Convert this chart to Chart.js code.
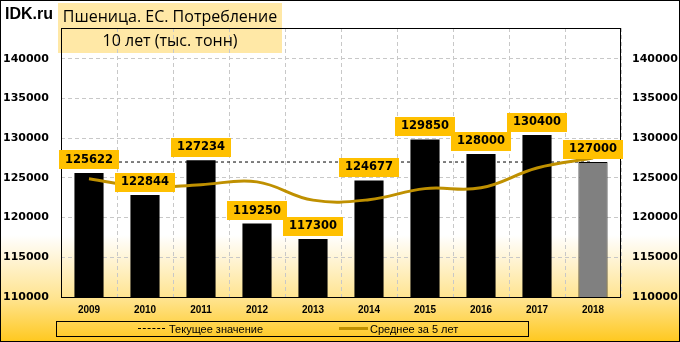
<!DOCTYPE html>
<html>
<head>
<meta charset="utf-8">
<script src="https://cdn.jsdelivr.net/npm/chart.js@4/dist/chart.umd.min.js"></script>
<style>
  html, body { margin: 0; padding: 0; }
  body { width: 680px; height: 342px; overflow: hidden; }
  #wrap {
    position: relative; width: 680px; height: 342px; box-sizing: border-box;
    background: linear-gradient(to bottom, #ffffff 0px, #ffffff 235px, #FFF3D0 262px, #FFE38C 300px, #FFC81E 342px);
  }
  #frame { position: absolute; left: 0; top: 0; width: 680px; height: 342px; box-sizing: border-box; border: 1px solid #000; z-index: 5; pointer-events: none; }
  #titlebg { position: absolute; left: 58px; top: 3px; width: 224px; height: 50px; background: #FFE8A6; z-index: 0; }
  canvas { position: absolute; left: 0; top: 0; z-index: 1; }
  .t { position: absolute; z-index: 3; white-space: nowrap; color: #000; }
  #brand { left: 5px; top: 4px; font: bold 16px "Liberation Sans", Arial, sans-serif; line-height: 20px; }
  #t1 { left: 58px; width: 224px; top: 5px; text-align: center; font: 16px "Open Sans", sans-serif; line-height: 22px; }
  #t2 { left: 58px; width: 224px; top: 29px; text-align: center; font: 16px "Open Sans", sans-serif; line-height: 22px; }
  #legend { position: absolute; left: 56px; top: 321px; width: 473px; height: 16px; box-sizing: border-box; border: 1px solid #000; z-index: 3; }
  .lg { position: absolute; top: 0; font: 11px "Liberation Sans", Arial, sans-serif; line-height: 14px; color: #000; white-space: nowrap; }
  .sw { position: absolute; }
</style>
</head>
<body>
<div id="wrap">
  <div id="titlebg"></div>
  <canvas id="c" width="680" height="342"></canvas>
  <div class="t" id="brand">IDK.ru</div>
  <div class="t" id="t1">Пшеница. ЕС. Потребление</div>
  <div class="t" id="t2">10 лет (тыс. тонн)</div>
  <div id="legend">
    <div class="sw" style="left:81px; top:6px; width:27px; border-top:1px dashed #000;"></div>
    <div class="lg" style="left:112px;">Текущее значение</div>
    <div class="sw" style="left:282px; top:5px; width:29px; height:3px; background:#BF9000;"></div>
    <div class="lg" style="left:313px;">Среднее за 5 лет</div>
  </div>
  <div id="frame"></div>
</div>
<script>
const categories = ['2009','2010','2011','2012','2013','2014','2015','2016','2017','2018'];
const consumption = [125622, 122844, 127234, 119250, 117300, 124677, 129850, 128000, 130400, 127000];
const average5 = [124900, 123850, 124150, 124500, 122200, 122250, 123650, 123750, 126250, 127500];
const currentValue = [127000, 127000, 127000, 127000, 127000, 127000, 127000, 127000, 127000, 127000];
const yTicks = [110000, 115000, 120000, 125000, 130000, 135000, 140000];

const Y_MIN = 110000, Y_MAX = 143880;

const barColors = categories.map((c, i) => i === categories.length - 1 ? '#808080' : '#000000');
const barBorders = categories.map((c, i) => i === categories.length - 1 ? 1 : 0);

const labelPlugin = {
  id: 'barLabels',
  afterDatasetsDraw(chart) {
    const meta = chart.getDatasetMeta(1);
    const ctx = chart.ctx;
    ctx.save();
    ctx.font = 'bold 11.5px "DejaVu Sans", Verdana, sans-serif';
    ctx.textAlign = 'center';
    ctx.textBaseline = 'middle';
    meta.data.forEach((bar, i) => {
      const txt = String(consumption[i]);
      const w = ctx.measureText(txt).width + 12;
      const h = 19;
      const bottom = bar.y - 3.5;
      ctx.fillStyle = '#FFC000';
      ctx.fillRect(Math.round(bar.x - w / 2), Math.round(bottom - h), Math.round(w), h);
      ctx.fillStyle = '#000';
      ctx.fillText(txt, bar.x, Math.round(bottom - h / 2) + 0.5);
    });
    ctx.restore();
  }
};

const framePlugin = {
  id: 'plotFrame',
  beforeDatasetsDraw(chart) {
    const a = chart.chartArea, ctx = chart.ctx;
    ctx.save();
    ctx.strokeStyle = '#000';
    ctx.lineWidth = 1;
    ctx.strokeRect(Math.round(a.left) + 0.5, Math.round(a.top) + 0.5, Math.round(a.right - a.left) - 1, Math.round(a.bottom - a.top));
    ctx.restore();
  }
};

const tickFont = { family: '"DejaVu Sans", Verdana, sans-serif', size: 11, weight: 'bold' };

new Chart(document.getElementById('c'), {
  type: 'bar',
  data: {
    labels: categories,
    datasets: [
      {
        type: 'line', label: 'Среднее за 5 лет', data: average5,
        borderColor: '#BF9000', borderWidth: 3, pointRadius: 0, tension: 0.4,
        fill: false, order: 0, yAxisID: 'y'
      },
      {
        type: 'bar', label: 'Потребление', data: consumption,
        backgroundColor: barColors, borderColor: '#000', borderWidth: barBorders,
        barPercentage: 0.52, categoryPercentage: 1, order: 1, yAxisID: 'y'
      },
      {
        type: 'line', label: 'Текущее значение', data: currentValue,
        borderColor: '#000', borderWidth: 1, borderDash: [3, 3], pointRadius: 0,
        fill: false, order: 2, yAxisID: 'y'
      }
    ]
  },
  options: {
    responsive: false,
    animation: false,
    devicePixelRatio: 1,
    layout: { padding: { left: 3, right: 0, top: 28, bottom: 25 } },
    plugins: { legend: { display: false }, tooltip: { enabled: false }, title: { display: false } },
    scales: {
      x: {
        offset: true,
        grid: { display: true, offset: true, color: '#C8C8C8', lineWidth: 1, drawTicks: false },
        border: { display: false, dash: [4, 3] },
        ticks: { color: '#000', font: { family: '"Liberation Sans", Arial, sans-serif', size: 10, weight: 'bold' }, padding: 7, maxRotation: 0 },
        afterFit(scale) { scale.height = 20; }
      },
      y: {
        position: 'left', min: Y_MIN, max: Y_MAX,
        grid: { display: true, color: '#C8C8C8', lineWidth: 1, drawTicks: false },
        border: { display: false, dash: [4, 3] },
        ticks: { stepSize: 5000, crossAlign: 'far', color: '#000', padding: 4, font: tickFont,
          callback: v => String(v) },
        afterBuildTicks(scale) { scale.ticks = yTicks.map(v => ({ value: v })); },
        afterFit(scale) { scale.width = 58; }
      },
      y2: {
        position: 'right', min: Y_MIN, max: Y_MAX,
        grid: { display: false, drawTicks: false },
        border: { display: false },
        ticks: { stepSize: 5000, crossAlign: 'near', color: '#000', padding: 11, font: tickFont,
          callback: v => String(v) },
        afterBuildTicks(scale) { scale.ticks = yTicks.map(v => ({ value: v })); },
        afterFit(scale) { scale.width = 59; }
      }
    }
  },
  plugins: [framePlugin, labelPlugin]
});
</script>
</body>
</html>
